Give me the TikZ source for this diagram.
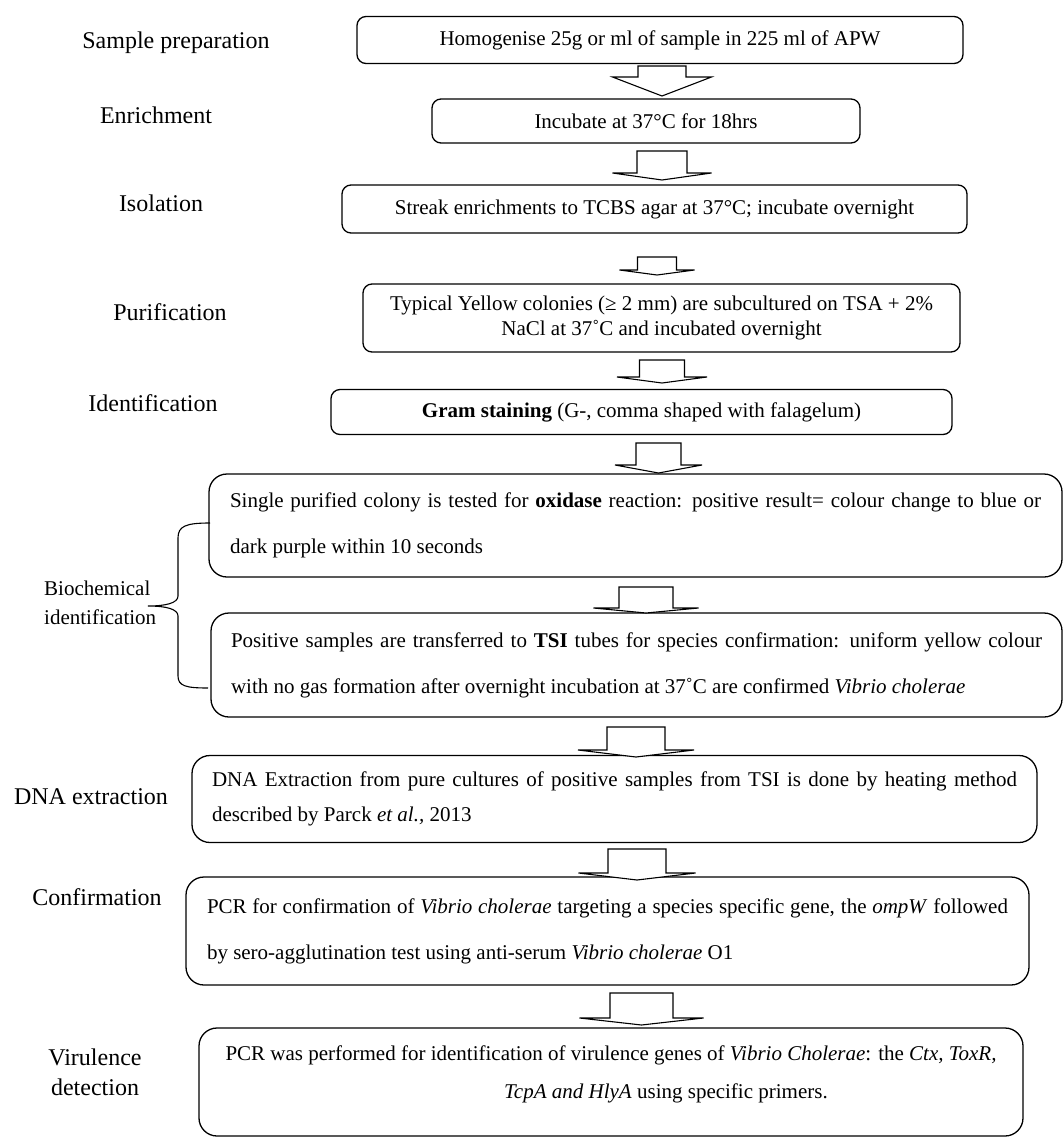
\documentclass[tikz,border=0pt]{standalone}
\usepackage{fontspec}
\setmainfont{Liberation Serif}
\tikzset{
  box/.style={draw, line width=1.3pt, rounded corners=9pt, inner xsep=20pt, inner ysep=0pt, font=\fontsize{21}{25}\selectfont, align=center},
  bigbox/.style={box, rounded corners=18pt, align=justify},
  lbl/.style={font=\fontsize{24}{30}\selectfont, align=center, inner sep=0pt},
  barrow/.style={draw, line width=1.1pt, fill=white, line join=miter},
}
\newcommand{\blkarrow}[6]{%
  \draw[barrow] (#1-#5,#2) -- (#1-#5,#3) -- (#1-#6,#3) -- (#1,#4) -- (#1+#6,#3) -- (#1+#5,#3) -- (#1+#5,#2) -- cycle;}
\begin{document}
\begin{tikzpicture}[x=1pt,y=-1pt]
\useasboundingbox[fill=white] (0,0) rectangle (1064,1138);

% left labels
\node[lbl] (l1) at (176,43) {Sample preparation};
\node[lbl] (l2) at (156,115) {Enrichment};
\node[lbl] (l3) at (161,203) {Isolation};
\node[lbl] (l4) at (170,312) {Purification};
\node[lbl] (l5) at (153,403) {Identification};
\node[lbl, font=\fontsize{21}{29}\selectfont, align=left, anchor=west] (l6) at (44,603) {Biochemical\\identification};
\node[lbl] (l7) at (91,797) {DNA extraction};
\node[lbl] (l8) at (97,897) {Confirmation};
\node[lbl] (l9) at (95,1072) {Virulence\\detection};

% boxes
\node[box, minimum width=606pt, minimum height=47pt] (b1) at (660,40) {Homogenise 25g or ml of sample in 225 ml of APW};
\node[box, minimum width=428pt, minimum height=44pt] (b2) at (646,121) {Incubate at 37°C for 18hrs};
\node[box, minimum width=625pt, minimum height=48pt] (b3) at (654.5,209) {Streak enrichments to TCBS agar at 37°C; incubate overnight};
\node[box, minimum width=597pt, minimum height=68pt] (b4) at (661.5,318) {Typical Yellow colonies (≥ 2 mm) are subcultured on TSA + 2\%\\NaCl at 37˚C and incubated overnight};
\node[box, minimum width=621pt, minimum height=45pt] (b5) at (641.5,412) {\textbf{Gram staining} (G-, comma shaped with falagelum)};
\node[bigbox, text width=811pt, inner xsep=21pt, minimum height=103pt, font=\fontsize{21}{46}\selectfont] (b6) at (635.5,525.5)
  {Single purified colony is tested for \textbf{oxidase} reaction: positive result= colour change to blue or\linebreak dark purple within 10 seconds};
\node[bigbox, text width=811pt, inner xsep=20pt, minimum height=104pt, font=\fontsize{21}{46}\selectfont] (b7) at (636.5,665)
  {Positive samples are transferred to \textbf{TSI} tubes for species confirmation: uniform yellow colour\linebreak with no gas formation after overnight incubation at 37˚C are confirmed \textit{Vibrio cholerae}};
\node[bigbox, text width=805pt, inner xsep=20pt, minimum height=87pt, font=\fontsize{21}{35}\selectfont] (b8) at (614.5,799)
  {DNA Extraction from pure cultures of positive samples from TSI is done by heating method\linebreak described by Parck \textit{et al.,} 2013};
\node[bigbox, text width=801pt, inner xsep=21pt, minimum height=108pt, font=\fontsize{21}{46}\selectfont] (b9) at (607.5,931)
  {PCR for confirmation of \textit{Vibrio cholerae} targeting a species specific gene, the \textit{ompW} followed\linebreak by sero-agglutination test using anti-serum \textit{Vibrio cholerae} O1};
\node[box, rounded corners=18pt, minimum width=824pt, minimum height=108pt] (b10) at (611,1082) {};
\node[font=\fontsize{21}{38}\selectfont, align=center, inner sep=0pt] (t10) at (611,1074)
  {PCR was performed for identification of virulence genes of \textit{Vibrio Cholerae}: the \textit{Ctx, ToxR,}\\\hspace*{110pt}\textit{TcpA and HlyA} using specific primers.};

% block arrows: cx, top, head base, tip, shaft half width, head half width
\blkarrow{662}{66}{77}{96}{24}{49.5}
\blkarrow{662}{151}{173}{180}{25}{49.5}
\blkarrow{657}{257}{270}{275}{19.5}{37.5}
\blkarrow{662}{360}{377}{383}{22.5}{45}
\blkarrow{658.5}{443}{465}{473}{22.5}{43.5}
\blkarrow{646}{587}{608}{613}{27}{52.5}
\blkarrow{636}{727}{750}{757}{29}{58}
\blkarrow{637}{849}{873}{880}{29}{58.5}
\blkarrow{641.5}{993}{1018}{1025}{31.5}{62}

% brace
\draw[line width=1.1pt] (210,523) .. controls (186,523) and (178,526) .. (178,538) -- (178,596)
  .. controls (178,603) and (166,606) .. (148,606)
  .. controls (166,606) and (178,609) .. (178,616) -- (178,676)
  .. controls (178,686) and (186,688) .. (208,688);
\end{tikzpicture}
\end{document}
